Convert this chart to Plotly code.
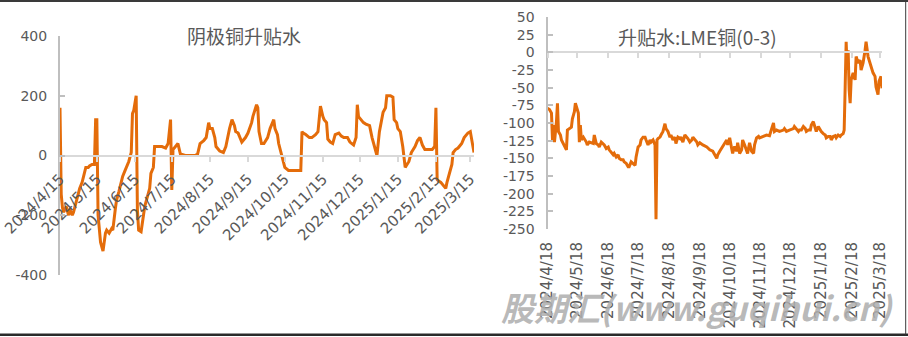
import plotly.graph_objects as go

# ---------------- data ----------------
left_title = "阴极铜升贴水"
right_title = "升贴水:LME铜(0-3)"

left_dates = [
    # Apr 2024
    "2024-04-15","2024-04-16","2024-04-17","2024-04-18","2024-04-20","2024-04-22","2024-04-23","2024-04-25","2024-04-26","2024-04-28","2024-04-30",
    # May
    "2024-05-01","2024-05-03","2024-05-05","2024-05-06","2024-05-08","2024-05-09","2024-05-11","2024-05-13","2024-05-14","2024-05-15","2024-05-16",
    "2024-05-17","2024-05-18","2024-05-20","2024-05-22","2024-05-23","2024-05-25","2024-05-27","2024-05-28","2024-05-30","2024-05-31",
    # Jun
    "2024-06-02","2024-06-04","2024-06-05","2024-06-07","2024-06-09","2024-06-10","2024-06-12","2024-06-13","2024-06-14","2024-06-16",
    "2024-06-17","2024-06-18","2024-06-20","2024-06-22","2024-06-23","2024-06-25","2024-06-27","2024-06-28","2024-06-30",
    # Jul
    "2024-07-01","2024-07-04","2024-07-07","2024-07-10","2024-07-12","2024-07-14","2024-07-15","2024-07-16","2024-07-18","2024-07-20",
    "2024-07-22","2024-07-26","2024-07-30",
    # Aug
    "2024-08-03","2024-08-05","2024-08-07","2024-08-10","2024-08-12","2024-08-14","2024-08-15","2024-08-17","2024-08-19","2024-08-20",
    "2024-08-22","2024-08-23","2024-08-26","2024-08-28","2024-08-31",
    # Sep
    "2024-09-02","2024-09-04","2024-09-05","2024-09-07","2024-09-09","2024-09-10","2024-09-13","2024-09-15","2024-09-18","2024-09-19",
    "2024-09-22","2024-09-23","2024-09-24","2024-09-26","2024-09-28",
    # Oct
    "2024-10-01","2024-10-03","2024-10-06","2024-10-07","2024-10-09","2024-10-10","2024-10-12","2024-10-14","2024-10-15","2024-10-18",
    "2024-10-21","2024-10-24","2024-10-28","2024-10-29","2024-10-30",
    # Nov
    "2024-11-01","2024-11-04","2024-11-06","2024-11-09","2024-11-11","2024-11-13","2024-11-15","2024-11-16","2024-11-18","2024-11-19",
    "2024-11-21","2024-11-23","2024-11-25","2024-11-28","2024-11-30",
    # Dec
    "2024-12-02","2024-12-05","2024-12-07","2024-12-10","2024-12-12","2024-12-13","2024-12-14","2024-12-16","2024-12-18","2024-12-20",
    "2024-12-23","2024-12-25","2024-12-28","2024-12-29","2024-12-31",
    # Jan 2025
    "2025-01-02","2025-01-03","2025-01-05","2025-01-06","2025-01-09","2025-01-11","2025-01-12","2025-01-14","2025-01-15","2025-01-17",
    "2025-01-19","2025-01-21","2025-01-24","2025-01-26","2025-01-29","2025-01-31",
    # Feb
    "2025-02-02","2025-02-04","2025-02-06","2025-02-09","2025-02-12","2025-02-14","2025-02-15","2025-02-16","2025-02-17","2025-02-19",
    "2025-02-21","2025-02-23","2025-02-24","2025-02-26","2025-02-28",
    # Mar
    "2025-03-01","2025-03-03","2025-03-05","2025-03-08","2025-03-10","2025-03-13","2025-03-15","2025-03-17","2025-03-18",
]
left_values = [
    160, -130, -175, -190, -170, -200, -180, -200, -190, -160, -130,
    -110, -90, -60, -40, -40, -35, -30, -30, 120, 120, -200,
    -250, -290, -320, -260, -250, -260, -245, -250, -180, -150,
    -120, -90, -70, -50, -30, -20, 10, 140, 150, 200,
    -180, -250, -255, -200, -170, -140, -110, -60, -40,
    30, 30, 30, 25, 40, 120, -115, 20, 30, 40,
    5, 0, 0,
    0, 5, 40, 50, 60, 110, 90, 90, 60, 30,
    20, 15, 10, 30, 90,
    120, 100, 80, 75, 50, 45, 60, 75, 110, 130,
    170, 160, 80, 40, 40,
    60, 90, 120, 90, 70, 40, 10, -20, -40, -50,
    -50, -50, -50, 80, 75,
    70, 60, 60, 70, 80, 165, 130, 120, 110, 55,
    45, 40, 70, 75, 65,
    60, 60, 45, 35, 60, 170, 130, 120, 110, 105,
    100, 60, 15, 0, 80,
    130, 145, 160, 200, 200, 195, 120, 110, 90, 80,
    30, -40, -20, 10, 30, 50,
    60, 35, 20, 20, 20, 30, 160, -80, -85, -90,
    -100, -110, -90, -60, -30,
    10, 20, 25, 40, 60, 75, 80, 30, 10,
]

right_dates = [
    "2024-04-18","2024-04-20","2024-04-22","2024-04-23","2024-04-24","2024-04-25","2024-04-27","2024-04-28","2024-04-29",
    "2024-05-01","2024-05-02","2024-05-03","2024-05-05","2024-05-07","2024-05-08","2024-05-10","2024-05-12","2024-05-13","2024-05-15",
    "2024-05-16","2024-05-17","2024-05-19","2024-05-20","2024-05-21","2024-05-22","2024-05-24","2024-05-27","2024-05-28","2024-05-30",
    "2024-06-03","2024-06-04","2024-06-06","2024-06-08","2024-06-09","2024-06-11","2024-06-13","2024-06-14","2024-06-16","2024-06-18",
    "2024-06-19","2024-06-21","2024-06-23","2024-06-24","2024-06-26","2024-06-28","2024-06-29",
    "2024-07-01","2024-07-03","2024-07-04","2024-07-06","2024-07-08","2024-07-09","2024-07-11","2024-07-13","2024-07-15","2024-07-16",
    "2024-07-18","2024-07-20","2024-07-21","2024-07-23","2024-07-25","2024-07-26","2024-07-28","2024-07-30","2024-07-31",
    "2024-08-02","2024-08-04","2024-08-05","2024-08-06","2024-08-07","2024-08-09","2024-08-10","2024-08-12","2024-08-14","2024-08-15",
    "2024-08-17","2024-08-19","2024-08-20","2024-08-22","2024-08-24","2024-08-25","2024-08-27","2024-08-29","2024-08-30",
    "2024-09-01","2024-09-03","2024-09-05","2024-09-06","2024-09-08","2024-09-10","2024-09-11","2024-09-13","2024-09-15","2024-09-16",
    "2024-09-18","2024-09-21","2024-09-25","2024-09-28",
    "2024-10-01","2024-10-05","2024-10-06","2024-10-08","2024-10-11","2024-10-15","2024-10-16","2024-10-18","2024-10-20","2024-10-21",
    "2024-10-23","2024-10-25","2024-10-26","2024-10-28","2024-10-30","2024-10-31",
    "2024-11-02","2024-11-04","2024-11-05","2024-11-07","2024-11-09","2024-11-11","2024-11-12","2024-11-14","2024-11-16","2024-11-17",
    "2024-11-21","2024-11-24","2024-11-27","2024-11-29",
    "2024-12-01","2024-12-02","2024-12-04","2024-12-07","2024-12-11","2024-12-12","2024-12-14","2024-12-17","2024-12-21","2024-12-22",
    "2024-12-24","2024-12-26","2024-12-27","2024-12-29","2024-12-31",
    "2025-01-02","2025-01-03","2025-01-05","2025-01-07","2025-01-08","2025-01-10","2025-01-12","2025-01-13","2025-01-15","2025-01-17",
    "2025-01-18","2025-01-20","2025-01-22","2025-01-23","2025-01-25","2025-01-27","2025-01-28","2025-01-30",
    "2025-02-01","2025-02-02","2025-02-04","2025-02-06","2025-02-07","2025-02-09","2025-02-10","2025-02-11","2025-02-12","2025-02-13",
    "2025-02-14","2025-02-15","2025-02-16","2025-02-17","2025-02-19","2025-02-21","2025-02-22","2025-02-24","2025-02-26","2025-02-27",
    "2025-03-01","2025-03-03","2025-03-04","2025-03-06","2025-03-08","2025-03-09","2025-03-11","2025-03-13","2025-03-14","2025-03-16",
    "2025-03-17","2025-03-19","2025-03-20",
]
right_values = [
    -79, -81, -86, -124, -103, -127, -98, -72, -112,
    -117, -124, -127, -134, -138, -110, -108, -106, -94, -84,
    -72, -77, -86, -127, -103, -124, -120, -127, -131, -127,
    -129, -117, -129, -131, -134, -127, -129, -131, -136, -134,
    -138, -141, -145, -143, -148, -145, -150,
    -152, -152, -155, -157, -162, -162, -155, -157, -160, -148,
    -134, -131, -124, -120, -120, -124, -131, -124, -127,
    -124, -131, -236, -124, -122, -120, -117, -112, -101, -108,
    -112, -120, -117, -124, -120, -129, -120, -122, -120,
    -127, -117, -120, -122, -127, -124, -120, -124, -127, -131,
    -128, -131, -134, -138,
    -140, -150, -145, -140, -133, -124, -131, -121, -136, -143,
    -133, -140, -128, -143, -138, -124,
    -131, -140, -143, -128, -140, -143, -131, -121, -119, -121,
    -119, -117, -118, -110,
    -100, -112, -110, -112, -110, -108, -112, -110, -108, -105,
    -108, -112, -110, -110, -105,
    -108, -112, -110, -110, -103, -98, -108, -112, -105, -110,
    -112, -115, -117, -121, -119, -119, -124, -119,
    -118, -121, -117, -119, -117, -115, -110, -49, 15, -25,
    3, -53, -72, -39, -29, -39, -6, -15, -11, -25,
    -15, 3, 15, -6, -15, -18, -29, -34, -49, -60,
    -41, -34, -51,
]

left_tickvals = ["2024-04-15","2024-05-15","2024-06-15","2024-07-15","2024-08-15","2024-09-15",
                 "2024-10-15","2024-11-15","2024-12-15","2025-01-15","2025-02-15","2025-03-15"]
left_ticktext = ["2024/4/15","2024/5/15","2024/6/15","2024/7/15","2024/8/15","2024/9/15",
                 "2024/10/15","2024/11/15","2024/12/15","2025/1/15","2025/2/15","2025/3/15"]
right_tickvals = ["2024-04-18","2024-05-18","2024-06-18","2024-07-18","2024-08-18","2024-09-18",
                  "2024-10-18","2024-11-18","2024-12-18","2025-01-18","2025-02-18","2025-03-18"]
right_ticktext = ["2024/4/18","2024/5/18","2024/6/18","2024/7/18","2024/8/18","2024/9/18",
                  "2024/10/18","2024/11/18","2024/12/18","2025/1/18","2025/2/18","2025/3/18"]

left_ytickvals = [-400, -200, 0, 200, 400]
left_yticktext = ["-400", "-200", "0", "200", "400"]
right_ytickvals = [-250, -225, -200, -175, -150, -125, -100, -75, -50, -25, 0, 25, 50]
right_yticktext = ["-250", "-225", "-200", "-175", "-150", "-125", "-100", "-75", "-50", "-25", "0", "25", "50"]

left_xrange = ["2024-04-15", "2025-03-18"]
right_xrange = ["2024-04-18", "2025-03-20"]
left_yrange = [-400, 400]
right_yrange = [-250, 50]

# ---------------- style ----------------
W, H = 908, 337
LINE = "#E46C0A"
TXT = "#595959"
AX = "#BFBFBF"
ZERO = "#D9D9D9"
FONT = "Noto Sans CJK SC, Noto Sans, sans-serif"
NUMFONT = "DejaVu Sans, Liberation Sans, sans-serif"

def px(x):
    return x / W

def py(y):
    return 1 - y / H

ldx = [px(60), px(474)]
ldy = [py(275), py(36)]
rdx = [px(547.5), px(882)]
rdy = [py(229), py(17)]

def zero_pos(dom, rng):
    return dom[0] + (0 - rng[0]) / (rng[1] - rng[0]) * (dom[1] - dom[0])

fig = go.Figure()
fig.add_trace(go.Scatter(x=left_dates, y=left_values, mode="lines",
                         line=dict(color=LINE, width=3), xaxis="x", yaxis="y",
                         showlegend=False, hoverinfo="x+y"))
fig.add_trace(go.Scatter(x=right_dates, y=right_values, mode="lines",
                         line=dict(color=LINE, width=3), xaxis="x2", yaxis="y2",
                         showlegend=False, hoverinfo="x+y"))
# carrier for the bottom label axis of the right chart
fig.add_trace(go.Scatter(x=[right_dates[0]], y=[None], mode="lines", xaxis="x3", yaxis="y2",
                         showlegend=False, hoverinfo="skip"))

yfont = dict(family=NUMFONT, size=14, color=TXT)
dfont = dict(family=NUMFONT, size=15, color=TXT)

fig.update_layout(
    width=W, height=H,
    margin=dict(l=0, r=0, t=0, b=0, autoexpand=False),
    paper_bgcolor="white", plot_bgcolor="rgba(0,0,0,0)",
    showlegend=False,
    xaxis=dict(domain=ldx, type="date", range=left_xrange, automargin=False,
               tickmode="array", tickvals=left_tickvals, ticktext=left_ticktext,
               tickangle=-45, tickfont=dfont,
               anchor="free", position=zero_pos(ldy, left_yrange),
               showline=True, linecolor=ZERO, linewidth=2,
               ticks="outside", ticklen=5, tickwidth=1.5, tickcolor=ZERO,
               showgrid=False, zeroline=False, ticklabelstandoff=3),
    yaxis=dict(domain=ldy, range=left_yrange, automargin=False,
               tickmode="array", tickvals=left_ytickvals, ticktext=left_yticktext,
               tickfont=yfont,
               showline=True, linecolor=AX, linewidth=2,
               ticks="inside", ticklen=5, tickwidth=2, tickcolor=AX,
               showgrid=False, zeroline=False, anchor="x", ticklabelstandoff=8),
    xaxis2=dict(domain=rdx, type="date", range=right_xrange, automargin=False,
                tickmode="array", tickvals=right_tickvals,
                showticklabels=False,
                anchor="free", position=zero_pos(rdy, right_yrange),
                showline=True, linecolor=ZERO, linewidth=2,
                ticks="outside", ticklen=5, tickwidth=1.5, tickcolor=ZERO,
                showgrid=False, zeroline=False),
    xaxis3=dict(domain=rdx, type="date", range=right_xrange, overlaying="x2", automargin=False,
                tickmode="array", tickvals=right_tickvals, ticktext=right_ticktext,
                tickangle=-90, tickfont=dfont, anchor="y2", side="bottom",
                showline=False, ticks="", showgrid=False, zeroline=False,
                ticklabelstandoff=9),
    yaxis2=dict(domain=rdy, range=right_yrange, automargin=False,
                tickmode="array", tickvals=right_ytickvals, ticktext=right_yticktext,
                tickfont=yfont,
                showline=True, linecolor=AX, linewidth=2,
                ticks="inside", ticklen=5, tickwidth=2, tickcolor=AX,
                showgrid=False, zeroline=False, anchor="x2", ticklabelstandoff=8),
)

fig.add_annotation(text=left_title, xref="paper", yref="paper", x=px(244), y=py(35),
                   showarrow=False, xanchor="center", yanchor="middle",
                   font=dict(family=FONT, size=19, color=TXT))
fig.add_annotation(text=right_title, xref="paper", yref="paper", x=px(697), y=py(36),
                   showarrow=False, xanchor="center", yanchor="middle",
                   font=dict(family=FONT, size=19, color=TXT))
fig.add_annotation(text="<b><i>股期汇(www.guqihui.cn)</i></b>", xref="paper", yref="paper",
                   x=px(697), y=py(307), showarrow=False, xanchor="center", yanchor="middle",
                   font=dict(family=FONT, size=33, color="rgba(175,175,175,0.88)"))

# frame of the picture
fig.add_shape(type="line", xref="paper", yref="paper", x0=0, x1=1, y0=py(1), y1=py(1),
              line=dict(color="#3a3a3a", width=2))
fig.add_shape(type="line", xref="paper", yref="paper", x0=0, x1=1, y0=py(334.7), y1=py(334.7),
              line=dict(color="#2a2a2a", width=2.5))
fig.add_shape(type="line", xref="paper", yref="paper", x0=px(905.7), x1=px(905.7), y0=py(1), y1=py(334.7),
              line=dict(color="#3a3a3a", width=1))

fig.write_html("out.html")
